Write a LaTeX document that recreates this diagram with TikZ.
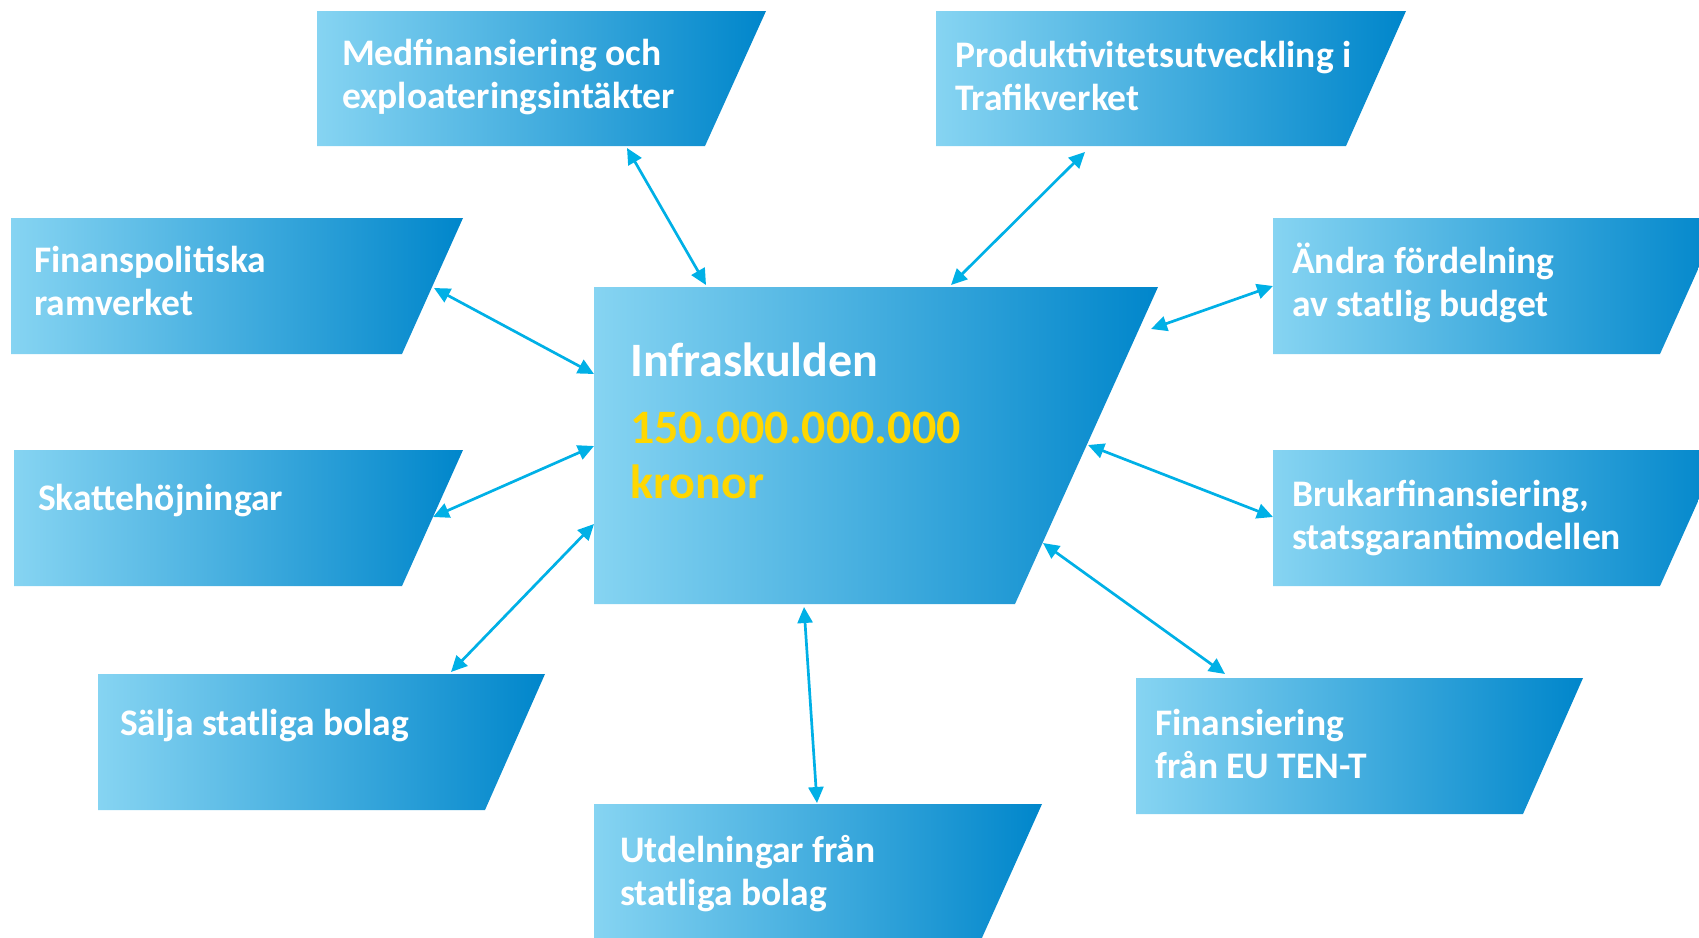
\documentclass[tikz,border=0pt]{standalone}
\usepackage{fontspec}
\setmainfont{Carlito}
\usetikzlibrary{arrows.meta}
\definecolor{gl}{RGB}{134,212,242}
\definecolor{gr}{RGB}{0,134,203}
\definecolor{arr}{RGB}{0,176,230}
\definecolor{gold}{RGB}{255,215,0}
\tikzset{
  pbox/.style={left color=gl,right color=gr,draw=none},
  lbl/.style={anchor=base west,inner sep=0pt,align=left,text=white,
    font=\fontsize{37.5bp}{42.5bp}\selectfont\bfseries},
  big/.style={anchor=base west,inner sep=0pt,align=left,text=white,
    font=\fontsize{48bp}{55bp}\selectfont\bfseries},
  conn/.style={draw=arr,line width=2.7bp,{Triangle[length=16bp,width=15bp]}-{Triangle[length=16bp,width=15bp]}}
}
\begin{document}
\begin{tikzpicture}[x=1bp,y=-1bp]
\useasboundingbox (0,0) rectangle (1699,937);
\clip (0,0) rectangle (1699,937);
% boxes
\shade[pbox] (317,11) -- (766,11) -- (705,146) -- (317,146) -- cycle;
\shade[pbox] (936,11) -- (1406,11) -- (1346,146) -- (936,146) -- cycle;
\shade[pbox] (11,218) -- (463,218) -- (402,354) -- (11,354) -- cycle;
\shade[pbox] (1273,218) -- (1721,218) -- (1660,354) -- (1273,354) -- cycle;
\shade[pbox] (14,450) -- (463,450) -- (402,586) -- (14,586) -- cycle;
\shade[pbox] (1273,450) -- (1721,450) -- (1660,586) -- (1273,586) -- cycle;
\shade[pbox] (98,674) -- (545,674) -- (485,810) -- (98,810) -- cycle;
\shade[pbox] (1136,678) -- (1583,678) -- (1523,814) -- (1136,814) -- cycle;
\shade[pbox] (594,804) -- (1042,804) -- (981,940) -- (594,940) -- cycle;
\shade[pbox] (594,287) -- (1158,287) -- (1015,604) -- (594,604) -- cycle;
% texts (anchor = baseline of last line)
\node[lbl] (medfin) at (342,108) {Medfinansiering och\\exploateringsintäkter};
\node[lbl] (prod) at (955,110) {Produktivitetsutveckling i\\Trafikverket};
\node[lbl] (finpol) at (34,315) {Finanspolitiska\\ramverket};
\node[lbl] (andra) at (1292,316) {Ändra fördelning\\av statlig budget};
\node[lbl] (skatt) at (38,510) {Skattehöjningar};
\node[lbl] (brukar) at (1292,549) {Brukarfinansiering,\\statsgarantimodellen};
\node[lbl] (salja) at (120,735) {Sälja statliga bolag};
\node[lbl] (eu) at (1155,778) {Finansiering\\från EU TEN-T};
\node[lbl] (utdel) at (620,905) {Utdelningar från\\statliga bolag};
\node[big] (infra) at (630,498) {Infraskulden\\[12bp]\textcolor{gold}{150.000.000.000}\\\textcolor{gold}{kronor}};
% connector end points
\coordinate (m1) at (627,148);  \coordinate (c1) at (706,285);
\coordinate (p1) at (1085,152); \coordinate (c2) at (951,285);
\coordinate (f1) at (434,288);  \coordinate (c3) at (594,374);
\coordinate (s1) at (433,517);  \coordinate (c4) at (594,446);
\coordinate (j1) at (451,672);  \coordinate (c5) at (594,524);
\coordinate (u1) at (817,803);  \coordinate (c6) at (804,607);
\coordinate (e1) at (1225,674); \coordinate (c7) at (1043,543);
\coordinate (b1) at (1273,517); \coordinate (c8) at (1088,445);
\coordinate (a1) at (1273,286); \coordinate (c9) at (1151,329);
\draw[conn] (m1) -- (c1);
\draw[conn] (p1) -- (c2);
\draw[conn] (f1) -- (c3);
\draw[conn] (s1) -- (c4);
\draw[conn] (j1) -- (c5);
\draw[conn] (u1) -- (c6);
\draw[conn] (e1) -- (c7);
\draw[conn] (b1) -- (c8);
\draw[conn] (a1) -- (c9);
\end{tikzpicture}
\end{document}
